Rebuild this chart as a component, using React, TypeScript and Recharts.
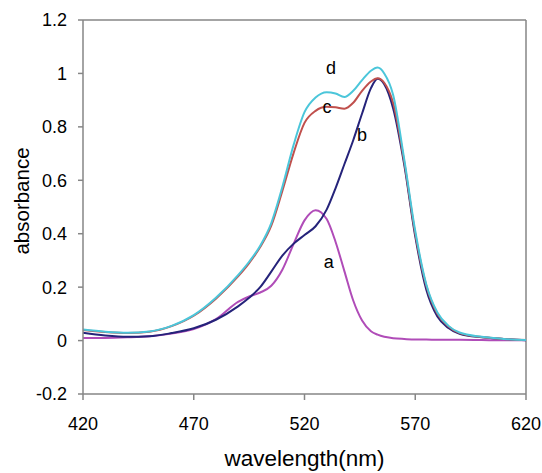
import { LineChart, Line, XAxis, YAxis, ReferenceLine, ReferenceDot, Label } from 'recharts';

// wavelength grid (nm) shared by all four spectra
const wavelengths = [420, 430, 440, 450, 460, 470, 480, 490, 495, 500, 505, 510, 515, 520, 525, 530, 534, 538, 542, 546, 550, 553, 556, 560, 565, 570, 575, 580, 585, 590, 600, 610, 620];

const seriesA = [0.01, 0.01, 0.012, 0.016, 0.026, 0.043, 0.08, 0.145, 0.165, 0.18, 0.205, 0.265, 0.36, 0.45, 0.488, 0.455, 0.37, 0.26, 0.15, 0.075, 0.035, 0.022, 0.014, 0.009, 0.006, 0.004, 0.004, 0.003, 0.003, 0.003, 0.002, 0.001, 0.001];
const seriesB = [0.029, 0.019, 0.014, 0.016, 0.028, 0.046, 0.078, 0.128, 0.16, 0.2, 0.258, 0.318, 0.362, 0.395, 0.428, 0.49, 0.57, 0.66, 0.75, 0.85, 0.945, 0.98, 0.96, 0.87, 0.66, 0.39, 0.19, 0.09, 0.047, 0.025, 0.012, 0.006, 0.001];
const seriesC = [0.04, 0.032, 0.028, 0.033, 0.054, 0.093, 0.157, 0.24, 0.29, 0.35, 0.43, 0.56, 0.7, 0.815, 0.86, 0.875, 0.873, 0.868, 0.89, 0.935, 0.97, 0.982, 0.965, 0.89, 0.67, 0.4, 0.205, 0.1, 0.053, 0.028, 0.013, 0.006, 0.002];
const seriesD = [0.041, 0.033, 0.029, 0.034, 0.055, 0.095, 0.16, 0.245, 0.295, 0.355, 0.44, 0.575, 0.73, 0.855, 0.91, 0.93, 0.925, 0.912, 0.935, 0.975, 1.01, 1.022, 1.0, 0.92, 0.68, 0.41, 0.21, 0.105, 0.055, 0.03, 0.014, 0.006, 0.002];

const xTicks = [420, 470, 520, 570, 620];
const yTicks = [-0.2, 0, 0.2, 0.4, 0.6, 0.8, 1, 1.2];

// curve letters placed in data space
const curveLabels = ['a', 'b', 'c', 'd'];
const labelX = [531, 546, 530.2, 532];
const labelY = [0.296, 0.77, 0.875, 1.02];

const data = wavelengths.map((wl, i) => ({
  wl,
  a: seriesA[i],
  b: seriesB[i],
  c: seriesC[i],
  d: seriesD[i],
}));

const FONT = '"Liberation Sans", Arial, sans-serif';
const AXIS = '#868686';

export default function App() {
  return (
    <div style={{ width: 542, height: 473, fontFamily: FONT }}>
      {/* drop the default body margin so the chart fills the window */}
      <style>{'body { margin: 0; }'}</style>
      <LineChart width={542} height={473} data={data} margin={{ top: 20, right: 16, bottom: 39, left: 0 }}>
        <XAxis
          dataKey="wl"
          type="number"
          domain={[420, 620]}
          ticks={xTicks}
          height={40}
          stroke={AXIS}
          strokeWidth={1.5}
          tickSize={6}
          tickMargin={17}
          tick={{ fill: '#000', fontSize: 18, fontFamily: FONT }}
        >
          <Label
            content={({ viewBox }: any) => (
              <text x={viewBox.x + viewBox.width / 2} y={viewBox.y + 72} textAnchor="middle" fontSize={22.5} fontFamily={FONT} fill="#000">
                wavelength(nm)
              </text>
            )}
          />
        </XAxis>
        <YAxis
          type="number"
          domain={[-0.2, 1.2]}
          ticks={yTicks}
          width={83}
          stroke={AXIS}
          strokeWidth={1.5}
          tickSize={5}
          tickMargin={11}
          tick={{ fill: '#000', fontSize: 18, fontFamily: FONT }}
        >
          <Label
            content={({ viewBox }: any) => {
              const cx = viewBox.x + 21;
              const cy = viewBox.y + viewBox.height / 2 - 6;
              return (
                <text x={cx} y={cy} textAnchor="middle" dominantBaseline="central" fontSize={20.5} fontFamily={FONT} fill="#000" transform={`rotate(-90 ${cx} ${cy})`}>
                  absorbance
                </text>
              );
            }}
          />
        </YAxis>
        <ReferenceLine y={1.2} stroke={AXIS} strokeWidth={1.5} />
        <ReferenceLine x={620} stroke={AXIS} strokeWidth={1.5} />
        <Line type="monotone" dataKey="a" stroke="#B04CB8" strokeWidth={2} dot={false} isAnimationActive={false} />
        <Line type="monotone" dataKey="b" stroke="#25237A" strokeWidth={2} dot={false} isAnimationActive={false} />
        <Line type="monotone" dataKey="c" stroke="#C0504D" strokeWidth={2} dot={false} isAnimationActive={false} />
        <Line type="monotone" dataKey="d" stroke="#4BC6DA" strokeWidth={2} dot={false} isAnimationActive={false} />
        {curveLabels.map((t, i) => (
          <ReferenceDot key={t} x={labelX[i]} y={labelY[i]} r={0} fill="none" stroke="none">
            <Label value={t} position="center" fontSize={18} fill="#000" fontFamily={FONT} />
          </ReferenceDot>
        ))}
      </LineChart>
    </div>
  );
}
